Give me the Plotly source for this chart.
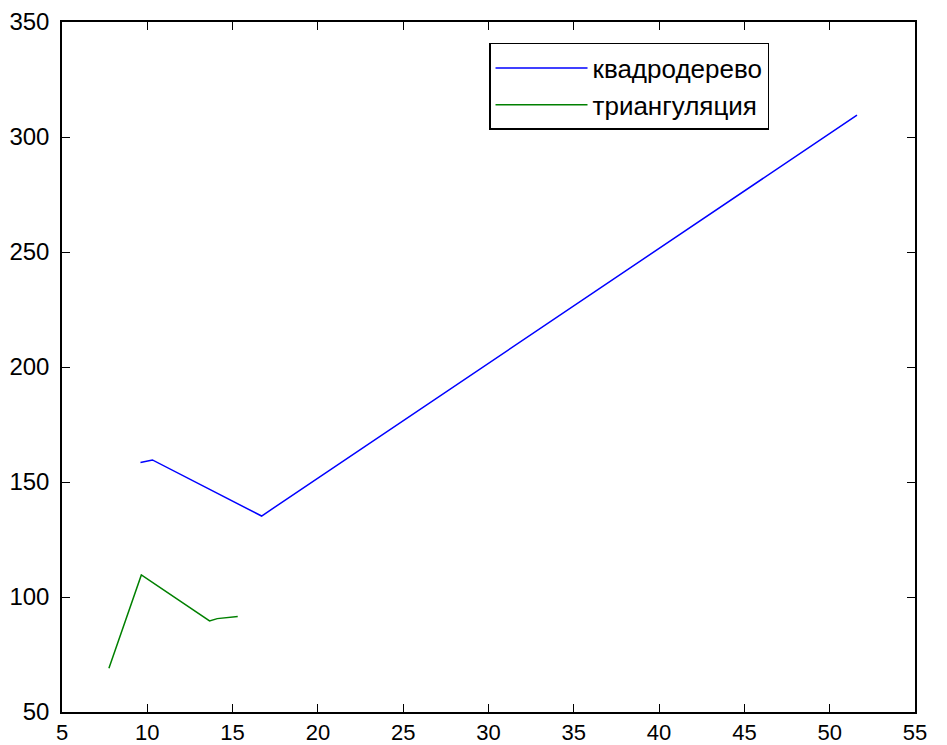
import plotly.graph_objects as go

quad_x = [9.6, 10.3, 16.7, 51.6]
quad_y = [158.5, 159.6, 135.2, 309.5]
tri_x = [7.75, 9.65, 13.65, 14.1, 15.3]
tri_y = [69, 109.6, 89.6, 90.6, 91.5]

x_ticks = [5, 10, 15, 20, 25, 30, 35, 40, 45, 50, 55]
y_ticks = [50, 100, 150, 200, 250, 300, 350]

font = "Liberation Sans, Arial, sans-serif"

fig = go.Figure()
fig.add_trace(go.Scatter(x=quad_x, y=quad_y, mode="lines", name="квадродерево",
                         line=dict(color="#0000FF", width=1.5)))
fig.add_trace(go.Scatter(x=tri_x, y=tri_y, mode="lines", name="триангуляция",
                         line=dict(color="#008000", width=1.5)))

axis_common = dict(showgrid=False, zeroline=False, showline=True, linecolor="black",
                   linewidth=1.5, mirror="ticks", ticks="inside", ticklen=8,
                   tickcolor="black", tickwidth=1.2, automargin=False)

fig.update_xaxes(range=[5, 55], tickvals=x_ticks, ticktext=[str(v) for v in x_ticks],
                 ticklabelstandoff=0,
                 tickfont=dict(family=font, size=22, color="black"), **axis_common)
fig.update_yaxes(range=[50, 350], tickvals=y_ticks, ticktext=[str(v) for v in y_ticks],
                 ticklabelstandoff=6,
                 tickfont=dict(family=font, size=24, color="black"), **axis_common)

fig.update_layout(
    width=939, height=737,
    margin=dict(l=54, r=32, t=14, b=33, autoexpand=False),
    paper_bgcolor="white", plot_bgcolor="white",
    showlegend=True,
    legend=dict(x=0.5006, y=0.9696, xanchor="left", yanchor="top",
                bgcolor="white", bordercolor="black", borderwidth=1.5,
                font=dict(family=font, size=26, color="black"),
                itemwidth=92, tracegroupgap=0),
)

fig.write_html("out.html")
